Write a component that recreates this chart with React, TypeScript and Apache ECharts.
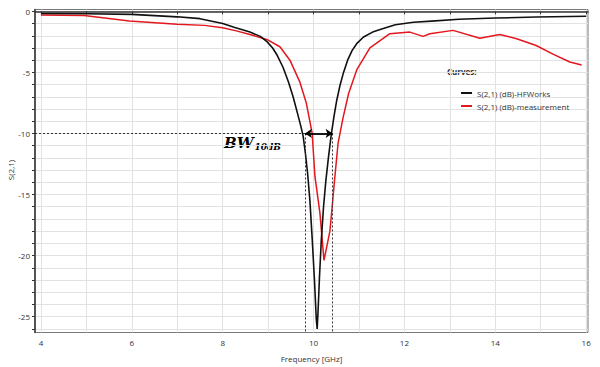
import React, { useEffect, useRef } from "react";
import * as echarts from "echarts";

// Simulation (HFWorks) curve: [frequency GHz, S21 dB]
const simFreq = [4.0, 5.0, 6.0, 7.0, 7.5, 8.0, 8.25, 8.6, 8.83, 8.98, 9.1, 9.2, 9.33, 9.45, 9.55, 9.65, 9.72, 9.77, 9.82, 9.87, 9.92, 9.97, 10.02, 10.06, 10.08, 10.1, 10.13, 10.17, 10.22, 10.27, 10.33, 10.39, 10.45, 10.51, 10.58, 10.66, 10.75, 10.85, 10.95, 11.1, 11.3, 11.5, 11.8, 12.2, 12.6, 13.2, 14.0, 14.9, 16.0];
const simS21 = [-0.18, -0.2, -0.25, -0.45, -0.6, -1.0, -1.3, -1.7, -2.05, -2.5, -3.0, -3.6, -4.6, -5.8, -7.0, -8.4, -9.4, -10.2, -11.6, -13.3, -15.5, -18.6, -22.0, -25.2, -26.0, -24.5, -21.8, -18.8, -16.0, -13.9, -11.9, -10.1, -8.6, -7.3, -6.1, -5.0, -4.0, -3.2, -2.65, -2.1, -1.7, -1.45, -1.1, -0.9, -0.8, -0.65, -0.55, -0.47, -0.4];

// Measurement curve
const measFreq = [4.0, 4.95, 5.95, 7.0, 7.6, 8.0, 8.3, 8.6, 8.97, 9.26, 9.48, 9.7, 9.84, 9.97, 10.03, 10.14, 10.23, 10.36, 10.41, 10.46, 10.54, 10.65, 10.77, 10.95, 11.24, 11.68, 12.12, 12.41, 12.56, 13.07, 13.66, 14.1, 14.47, 14.9, 15.27, 15.64, 15.9];
const measS21 = [-0.3, -0.35, -0.8, -1.05, -1.15, -1.35, -1.6, -1.9, -2.3, -2.9, -4.0, -5.8, -7.5, -10.0, -13.5, -16.5, -20.4, -18.0, -16.0, -13.9, -10.8, -8.7, -6.75, -4.8, -3.0, -1.83, -1.7, -2.05, -1.83, -1.56, -2.2, -1.9, -2.24, -2.8, -3.5, -4.15, -4.4];

const xTicks = [4, 5, 6, 7, 8, 9, 10, 11, 12, 13, 14, 15, 16];
const xLabels = [4, 6, 8, 10, 12, 14, 16];
const yTicks = [-26, -25, -24, -23, -22, -21, -20, -19, -18, -17, -16, -15, -14, -13, -12, -11, -10, -9, -8, -7, -6, -5, -4, -3, -2, -1, 0];
const yLabels = [-25, -20, -15, -10, -5, 0];

// Bandwidth annotation (data coordinates)
const bwLevel = -10;
const bwLow = 9.81;
const bwHigh = 10.42;

const seriesNames = ["S(2,1) (dB)-HFWorks", "S(2,1) (dB)-measurement"];
const yAxisTitle = "S(2,1)";

const X_MIN = 3.87;
const X_MAX = 16.04;
const Y_MIN = -26.3;
const Y_MAX = 0.15;

export default function App() {
  const ref = useRef<HTMLDivElement>(null);
  useEffect(() => {
    if (!ref.current) return;
    const chart = echarts.init(ref.current, undefined, { renderer: "svg" });
    const font = "'Open Sans', 'Noto Sans', sans-serif";
    const dash = { color: "#333", type: [2, 2] as any, width: 1 };
    chart.setOption({
      animation: false,
      backgroundColor: "#fff",
      grid: {
        left: 35, top: 9.5, right: 12, bottom: 34.5,
        show: true, borderColor: "#777", borderWidth: 1,
        outerBoundsMode: "none", containLabel: false,
      },
      xAxis: {
        type: "value",
        min: X_MIN,
        max: X_MAX,
        name: "Frequency [GHz]",
        nameLocation: "middle",
        nameGap: 22,
        nameTextStyle: { fontFamily: font, fontSize: 8, color: "#333" },
        axisLine: { show: true, lineStyle: { color: "#333", width: 1.5 } },
        axisTick: { show: true, customValues: xTicks, length: 3, lineStyle: { color: "#333" } },
        axisLabel: { customValues: xLabels, fontFamily: font, fontSize: 8, color: "#333", margin: 6 },
        splitLine: { show: true, lineStyle: { color: "#e2e2e2", width: 1 } },
      },
      yAxis: {
        type: "value",
        min: Y_MIN,
        max: Y_MAX,
        axisLine: { show: true, lineStyle: { color: "#333", width: 1.5 } },
        axisTick: { show: true, customValues: yTicks, length: 3, lineStyle: { color: "#333" } },
        axisLabel: { customValues: yLabels, fontFamily: font, fontSize: 8, color: "#333", margin: 5 },
        splitLine: { show: true, lineStyle: { color: "#e2e2e2", width: 1 } },
      },
      legend: {
        orient: "vertical",
        left: 456,
        top: 84,
        icon: "rect",
        itemWidth: 11,
        itemHeight: 2,
        itemGap: 5,
        textStyle: { fontFamily: font, fontSize: 8, color: "#333" },
        data: seriesNames,
      },
      graphic: [
        {
          type: "text",
          x: 10,
          y: 170,
          rotation: Math.PI / 2,
          style: { text: yAxisTitle, font: `8px ${font}`, fill: "#333", align: "center", verticalAlign: "middle" },
        },
        { type: "text", left: 447, top: 67, style: { text: "Curves:", font: `bold 8px ${font}`, fill: "#333" } },
        {
          type: "text",
          left: 224,
          top: 135,
          style: {
            text: "{a|BW}{b|10dB}",
            rich: {
              a: { font: "bold italic 15px 'DejaVu Serif', serif", fill: "#000" },
              b: { font: "bold italic 9px 'DejaVu Serif', serif", fill: "#000", padding: [8, 0, 0, 1] },
            },
          },
        },
      ],
      series: [
        {
          name: seriesNames[0],
          type: "line",
          showSymbol: false,
          lineStyle: { color: "#111", width: 1.6 },
          itemStyle: { color: "#111" },
          data: simFreq.map((f, i) => [f, simS21[i]]),
          z: 3,
          markLine: {
            silent: true,
            symbol: "none",
            label: { show: false },
            lineStyle: dash,
            data: [
              [{ coord: [X_MIN, bwLevel] }, { coord: [bwLow, bwLevel] }],
              [{ coord: [bwLow, bwLevel] }, { coord: [bwLow, Y_MIN] }],
              [{ coord: [bwHigh, bwLevel] }, { coord: [bwHigh, Y_MIN] }],
            ],
          },
        },
        {
          name: seriesNames[1],
          type: "line",
          showSymbol: false,
          lineStyle: { color: "#e3171e", width: 1.5 },
          itemStyle: { color: "#e3171e" },
          data: measFreq.map((f, i) => [f, measS21[i]]),
          z: 2,
          markLine: {
            silent: true,
            symbol: ["arrow", "arrow"],
            symbolSize: [7, 7],
            label: { show: false },
            lineStyle: { color: "#000", type: "solid", width: 1.8 },
            data: [[{ coord: [bwLow, bwLevel] }, { coord: [bwHigh, bwLevel] }]],
          },
        },
      ],
    });
    return () => chart.dispose();
  }, []);
  return <div ref={ref} style={{ width: 600, height: 367, position: "absolute", left: 0, top: 0 }} />;
}
